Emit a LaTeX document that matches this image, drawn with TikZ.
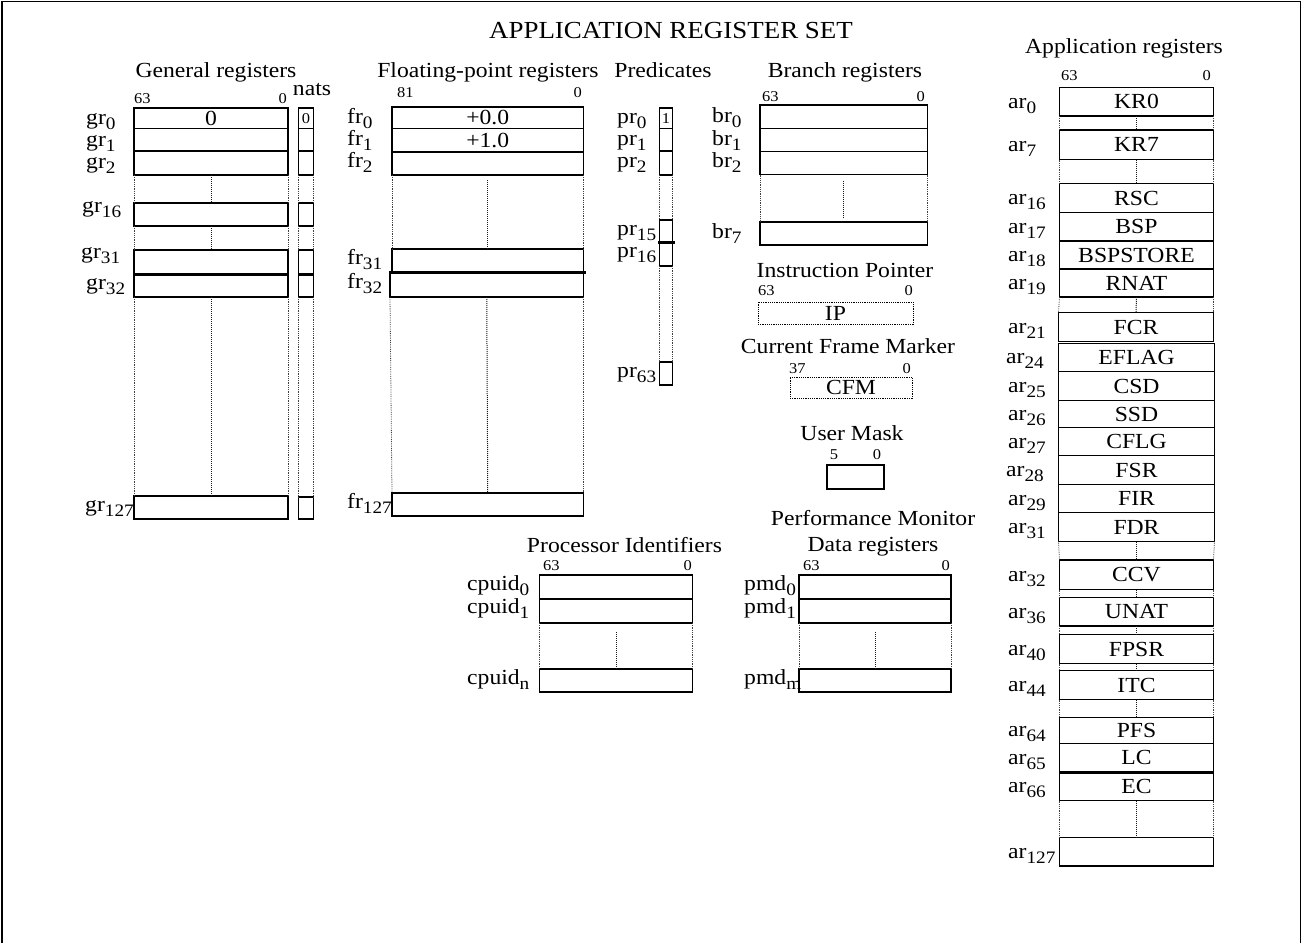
\documentclass[tikz,border=0pt]{standalone}
\usepackage{fontspec}
\setmainfont{Liberation Serif}[FakeStretch=1.1]
\newcommand\fsmain{\fontsize{21.5}{24}\selectfont}
\newcommand\fsbit{\fontsize{15}{17}\selectfont}
\newcommand\fstitle{\fontsize{24.5}{28}\selectfont}
\newcommand\sbs[1]{\raisebox{-0.25em}{\fontsize{17.5}{19}\selectfont #1}}
\tikzset{
  regbox/.style={draw, line width=1.2pt, inner sep=0pt, outer sep=0pt, font=\fsmain},
  dotbox/.style={regbox, densely dotted, line width=1pt},
  gapline/.style={densely dotted, line width=0.8pt, black!75},
  midline/.style={densely dotted, line width=1pt, black!90},
  sepline/.style={line width=3pt},
  lab/.style={anchor=base west, inner sep=0pt, font=\fsmain},
  ttl/.style={anchor=base, inner sep=0pt, font=\fsmain},
  bitl/.style={anchor=base west, inner sep=0pt, font=\fsbit},
  bitr/.style={anchor=base east, inner sep=0pt, font=\fsbit},
  bitc/.style={anchor=base, inner sep=0pt, font=\fsbit},
}
\newcommand\reg[6]{\node[regbox, minimum width={(#4)-(#2)}, minimum height={(#5)-(#3)}] (#1) at ({((#2)+(#4))/2},{((#3)+(#5))/2}) {#6};}
\newcommand\dreg[6]{\node[dotbox, minimum width={(#4)-(#2)}, minimum height={(#5)-(#3)}] (#1) at ({((#2)+(#4))/2},{((#3)+(#5))/2}) {#6};}
\newcommand\lbl[5]{\node[lab] (#1) at (#2,#3) {#4\sbs{#5}};}
\newcommand\gapw[2]{\draw[gapline] (#1.south west) -- (#2.north west); \draw[gapline] (#1.south east) -- (#2.north east); \draw[midline] (#1.south) -- (#2.north);}
\newcommand\gapn[2]{\draw[gapline] (#1.south west) -- (#2.north west); \draw[gapline] (#1.south east) -- (#2.north east);}
\begin{document}
\begin{tikzpicture}[x=1pt,y=-1pt]
\useasboundingbox (0,0) rectangle (1302,943);
% frame
\coordinate (fbl) at (2,943);
\coordinate (ftl) at (2,1.5);
\coordinate (ftr) at (1300.5,1.5);
\coordinate (fbr) at (1300.5,943);
\draw[line width=1.5pt] (fbl) -- (ftl) -- (ftr) -- (fbr);
\node[anchor=base, inner sep=0pt, font=\fstitle] (title) at (671,38) {APPLICATION REGISTER SET};

% ---------- General registers
\node[ttl] (tgr) at (216,77) {General registers};
\node[bitl] (gb63) at (134,103) {63};
\node[bitr] (gb0) at (287,103) {0};
\node[ttl] (tnats) at (312,95) {nats};
\reg{gr0}{134}{108}{288}{128.5}{0}
\reg{gr1}{134}{128.5}{288}{151}{}
\reg{gr2}{134}{151}{288}{175}{}
\reg{gr16}{134}{203}{288}{226}{}
\reg{gr31}{134}{250}{288}{274}{}
\reg{gr32}{134}{274}{288}{297}{}
\reg{gr127}{134}{496}{288}{519}{}
\gapw{gr2}{gr16}
\gapw{gr16}{gr31}
\gapw{gr32}{gr127}
\draw[sepline] (gr31.south west) -- ([xshift=1pt]gr31.south east);
\reg{n0}{298.5}{108}{313.5}{128.5}{\fsbit 0}
\reg{n1}{298.5}{128.5}{313.5}{151}{}
\reg{n2}{298.5}{151}{313.5}{175}{}
\reg{n16}{298.5}{203}{313.5}{226}{}
\reg{n31}{298.5}{250}{313.5}{274}{}
\reg{n32}{298.5}{275}{313.5}{297}{}
\reg{n127}{298.5}{497}{313.5}{519}{}
\gapn{n2}{n16}
\gapn{n16}{n31}
\gapn{n32}{n127}
\lbl{lgr0}{86}{124}{gr}{0}
\lbl{lgr1}{86}{146}{gr}{1}
\lbl{lgr2}{86}{168}{gr}{2}
\lbl{lgr16}{82}{212}{gr}{16}
\lbl{lgr31}{81}{258}{gr}{31}
\lbl{lgr32}{86}{289}{gr}{32}
\lbl{lgr127}{85}{511}{gr}{127}

% ---------- Floating-point registers
\node[ttl] (tfr) at (488,77) {Floating-point registers};
\node[bitl] (fb81) at (397,97) {81};
\node[bitr] (fb0) at (582,97) {0};
\reg{fr0}{392}{107}{583.5}{128.5}{+0.0}
\reg{fr1}{392}{128.5}{583.5}{152}{+1.0}
\reg{fr2}{392}{152}{583.5}{175}{}
\reg{fr31}{392}{249}{583.5}{272}{}
\reg{fr32}{390}{272}{583.5}{297}{}
\reg{fr127}{392}{493}{583.5}{516}{}
\draw[gapline] (fr2.south west) -- (fr31.north west);
\draw[gapline] (fr2.south east) -- (fr31.north east);
\draw[midline] ([yshift=-5pt]fr2.south) -- (fr31.north);
\gapw{fr32}{fr127}
\draw[sepline] (fr32.north west) -- ([xshift=2.5pt]fr32.north east);
\lbl{lfr0}{347}{123}{fr}{0}
\lbl{lfr1}{347}{145}{fr}{1}
\lbl{lfr2}{347}{167}{fr}{2}
\lbl{lfr31}{347}{264}{fr}{31}
\lbl{lfr32}{347}{288}{fr}{32}
\lbl{lfr127}{347}{508}{fr}{127}

% ---------- Predicates
\node[ttl] (tpr) at (663,77) {Predicates};
\reg{p0}{659.5}{108}{672.5}{128.5}{\fsbit 1}
\reg{p1}{659.5}{128.5}{672.5}{151}{}
\reg{p2}{659.5}{151}{672.5}{175}{}
\reg{p15}{659.5}{220}{672.5}{242}{}
\reg{p16}{659.5}{242}{672.5}{266}{}
\reg{p63}{659.5}{362}{672.5}{385}{}
\gapn{p2}{p15}
\gapn{p16}{p63}
\draw[sepline] ([xshift=-1.5pt]p15.south west) -- ([xshift=2.5pt]p15.south east);
\lbl{lpr0}{617}{123}{pr}{0}
\lbl{lpr1}{617}{145}{pr}{1}
\lbl{lpr2}{617}{167}{pr}{2}
\lbl{lpr15}{617}{235}{pr}{15}
\lbl{lpr16}{617}{257}{pr}{16}
\lbl{lpr63}{617}{377}{pr}{63}

% ---------- Branch registers
\node[ttl] (tbr) at (845,77) {Branch registers};
\node[bitl] (bb63) at (762,101) {63};
\node[bitr] (bb0) at (925,101) {0};
\reg{br0}{760}{105}{927.5}{128.5}{}
\reg{br1}{760}{128.5}{927.5}{151.5}{}
\reg{br2}{760}{151.5}{927.5}{174.5}{}
\reg{br7}{760}{222}{927.5}{245}{}
\draw[gapline] (br2.south west) -- (br7.north west);
\draw[gapline] (br2.south east) -- (br7.north east);
\draw[midline] ([yshift=-6pt]br2.south) -- ([yshift=5pt]br7.north);
\lbl{lbr0}{712}{122}{br}{0}
\lbl{lbr1}{712}{145}{br}{1}
\lbl{lbr2}{712}{167}{br}{2}
\lbl{lbr7}{712}{238}{br}{7}

% ---------- Instruction Pointer
\node[ttl] (tip) at (845,277) {Instruction Pointer};
\node[bitl] (ib63) at (758,295) {63};
\node[bitr] (ib0) at (913,295) {0};
\dreg{ip}{758}{302}{913}{324}{IP}

% ---------- Current Frame Marker
\node[ttl] (tcfm) at (848,353) {Current Frame Marker};
\node[bitl] (cb37) at (789,373) {37};
\node[bitr] (cb0) at (911,373) {0};
\dreg{cfm}{790}{377}{912}{398}{CFM}

% ---------- User Mask
\node[ttl] (tum) at (852,440) {User Mask};
\node[bitc] (ub5) at (834,459) {5};
\node[bitc] (ub0) at (877,459) {0};
\reg{um}{827}{465}{884}{489}{}

% ---------- Processor Identifiers
\node[ttl] (tcpu) at (624.5,552) {Processor Identifiers};
\node[bitl] (pb63) at (543,570) {63};
\node[bitr] (pb0) at (692,570) {0};
\reg{cpuid0}{539.5}{575}{692.5}{599}{}
\reg{cpuid1}{539.5}{599}{692.5}{623}{}
\reg{cpuidn}{539.5}{669}{692.5}{692}{}
\draw[gapline] (cpuid1.south west) -- (cpuidn.north west);
\draw[gapline] (cpuid1.south east) -- (cpuidn.north east);
\draw[midline] ([yshift=-9pt]cpuid1.south) -- (cpuidn.north);
\lbl{lcpuid0}{467}{590}{cpuid}{0}
\lbl{lcpuid1}{467}{613}{cpuid}{1}
\lbl{lcpuidn}{467}{684}{cpuid}{n}

% ---------- Performance Monitor Data registers
\node[ttl] (tpmd1) at (873,525) {Performance Monitor};
\node[ttl] (tpmd2) at (873,551) {Data registers};
\node[bitl] (mb63) at (803,570) {63};
\node[bitr] (mb0) at (950,570) {0};
\reg{pmd0}{799}{575}{951}{599}{}
\reg{pmd1}{799}{599}{951}{623}{}
\reg{pmdm}{799}{669}{951}{692}{}
\draw[gapline] (pmd1.south west) -- (pmdm.north west);
\draw[gapline] (pmd1.south east) -- (pmdm.north east);
\draw[midline] ([yshift=-9pt]pmd1.south) -- (pmdm.north);
\lbl{lpmd0}{744}{590}{pmd}{0}
\lbl{lpmd1}{744}{613}{pmd}{1}
\lbl{lpmdm}{744}{684}{pmd}{m}

% ---------- Application registers
\node[ttl] (tar) at (1124,53) {Application registers};
\node[bitl] (ab63) at (1061,80) {63};
\node[bitr] (ab0) at (1211,80) {0};
\reg{ar0}{1059.5}{87.5}{1213.5}{116}{KR0}
\reg{ar7}{1059.5}{130}{1213.5}{159.5}{KR7}
\reg{ar16}{1059.5}{183.5}{1213.5}{212.5}{RSC}
\reg{ar17}{1059.5}{212.5}{1213.5}{241}{BSP}
\reg{ar18}{1059.5}{241}{1213.5}{269}{BSPSTORE}
\reg{ar19}{1059.5}{269}{1213.5}{297}{RNAT}
\reg{ar21}{1058.5}{312.5}{1213.5}{341.5}{FCR}
\reg{ar24}{1058.5}{343.5}{1214.5}{371.5}{EFLAG}
\reg{ar25}{1058.5}{371.5}{1214.5}{400.5}{CSD}
\reg{ar26}{1058.5}{400.5}{1214.5}{427.5}{SSD}
\reg{ar27}{1058.5}{427.5}{1214.5}{455.5}{CFLG}
\reg{ar28}{1058.5}{455.5}{1214.5}{484.5}{FSR}
\reg{ar29}{1058.5}{484.5}{1214.5}{512.5}{FIR}
\reg{ar31}{1058.5}{512.5}{1214.5}{541.5}{FDR}
\reg{ar32}{1059.5}{560}{1213.5}{589.5}{CCV}
\reg{ar36}{1059.5}{597.5}{1213.5}{626}{UNAT}
\reg{ar40}{1059.5}{634.5}{1213.5}{663.5}{FPSR}
\reg{ar44}{1059.5}{670.5}{1213.5}{699.5}{ITC}
\reg{ar64}{1059.5}{717.5}{1213.5}{743.5}{PFS}
\reg{ar65}{1059.5}{743.5}{1213.5}{772}{LC}
\reg{ar66}{1059.5}{772}{1213.5}{800.5}{EC}
\reg{ar127}{1059.5}{837.5}{1213.5}{866}{}
\gapw{ar0}{ar7}
\gapw{ar7}{ar16}
\gapw{ar19}{ar21}
\gapw{ar31}{ar32}
\gapw{ar32}{ar36}
\gapw{ar36}{ar40}
\gapw{ar40}{ar44}
\gapw{ar44}{ar64}
\gapw{ar66}{ar127}
\draw[sepline] (ar65.south west) -- (ar65.south east);
\lbl{lar0}{1008}{108}{ar}{0}
\lbl{lar7}{1008}{151}{ar}{7}
\lbl{lar16}{1008}{204}{ar}{16}
\lbl{lar17}{1008}{233}{ar}{17}
\lbl{lar18}{1008}{261}{ar}{18}
\lbl{lar19}{1008}{289}{ar}{19}
\lbl{lar21}{1008}{333}{ar}{21}
\lbl{lar24}{1006}{363}{ar}{24}
\lbl{lar25}{1008}{392}{ar}{25}
\lbl{lar26}{1008}{420}{ar}{26}
\lbl{lar27}{1008}{448}{ar}{27}
\lbl{lar28}{1006}{476}{ar}{28}
\lbl{lar29}{1008}{505}{ar}{29}
\lbl{lar31}{1008}{533}{ar}{31}
\lbl{lar32}{1008}{581}{ar}{32}
\lbl{lar36}{1008}{618}{ar}{36}
\lbl{lar40}{1008}{655}{ar}{40}
\lbl{lar44}{1008}{691}{ar}{44}
\lbl{lar64}{1008}{736}{ar}{64}
\lbl{lar65}{1008}{764}{ar}{65}
\lbl{lar66}{1008}{792}{ar}{66}
\lbl{lar127}{1008}{858}{ar}{127}
\end{tikzpicture}
\end{document}
